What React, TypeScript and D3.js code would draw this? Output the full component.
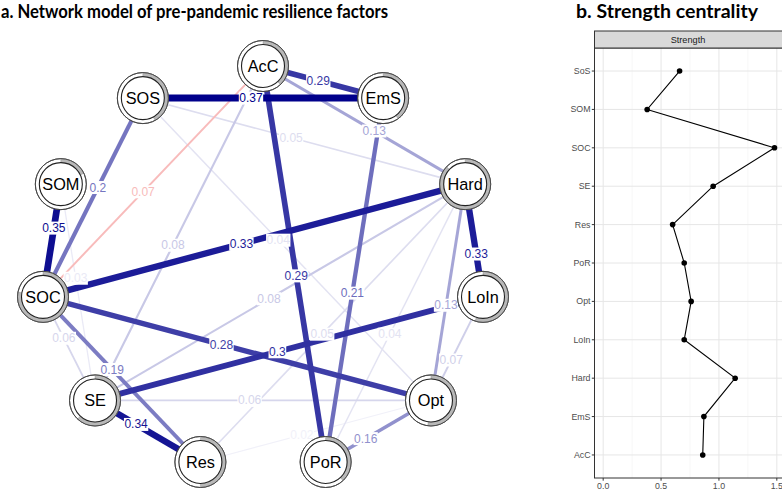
import React from "react";
import * as d3 from "d3";

// ---------- Data ----------
const nodeNames = ["AcC", "EmS", "Hard", "LoIn", "Opt", "PoR", "Res", "SE", "SOC", "SOM", "SOS"];
const nodePie = [0.38, 0.4, 0.87, 0.55, 0.52, 0.38, 0.5, 0.62, 0.78, 0.18, 0.42];

const edgeFrom = ["SOS", "AcC", "AcC", "AcC", "SOS", "SOS", "SOM", "AcC", "AcC", "SOS", "EmS", "SOC", "Hard", "SE", "Hard", "LoIn", "SOC", "SOC", "SE", "SOC", "SOM", "SE", "Res", "Res", "SE", "PoR", "PoR"];
const edgeTo = ["EmS", "EmS", "PoR", "Hard", "Hard", "SOC", "SOC", "SOC", "SE", "Opt", "PoR", "Hard", "LoIn", "LoIn", "Opt", "Opt", "Opt", "Res", "Res", "SE", "SE", "Opt", "Opt", "Hard", "Hard", "Hard", "Opt"];
const edgeWeight = [0.37, 0.29, 0.29, 0.13, 0.05, 0.2, 0.35, -0.07, 0.08, 0.04, 0.21, 0.33, 0.33, 0.3, 0.13, 0.07, 0.28, 0.19, 0.34, 0.06, 0.03, 0.06, 0.02, 0.05, 0.08, 0.04, 0.16];
// label placement (fraction along each edge, from -> to)
const edgeLabelAt = [0.45, 0.46, 0.53, 0.55, 0.46, 0.45, 0.39, 0.545, 0.536, 0.47, 0.536, 0.47, 0.62, 0.47, 0.56, 0.61, 0.46, 0.44, 0.39, 0.4, 0.435, 0.46, 0.44, 0.46, 0.47, 0.46, 0.38];

const strengthLabels = ["SoS", "SOM", "SOC", "SE", "Res", "PoR", "Opt", "LoIn", "Hard", "EmS", "AcC"];
const strengthNodes = ["SOS", "SOM", "SOC", "SE", "Res", "PoR", "Opt", "LoIn", "Hard", "EmS", "AcC"];
const xTicks = [0, 0.5, 1, 1.5];
const xMinorTicks = [0.25, 0.75, 1.25];

const titleA = "a. Network model of pre-pandemic resilience factors";
const titleB = "b. Strength centrality";
const stripLabel = "Strength";

// ---------- Helpers ----------
const W = 782;
const H = 492;
const maxW = 0.37;
const posBase = d3.rgb(0, 0, 139);
const negBase = d3.rgb(230, 0, 0);

function edgeColor(w: number) {
  const a = Math.min(1, (Math.abs(w) / maxW) * (w > 0 ? 1 : 1.4));
  const base = w > 0 ? posBase : negBase;
  return d3.interpolateRgb("#ffffff", base.formatHex())(a);
}
function edgeWidth(w: number) {
  return 0.8 + 6.2 * Math.min(1, Math.abs(w) / maxW);
}
function fmt(w: number) {
  return String(+Math.abs(w).toFixed(2));
}

export default function App() {
  // circular layout (qgraph style, clockwise from top)
  const n = nodeNames.length;
  const raw = nodeNames.map((_, i) => {
    const t = Math.PI / 2 - (i * 2 * Math.PI) / n;
    return { x: Math.cos(t), y: Math.sin(t) };
  });
  const xs = d3.scaleLinear().domain(d3.extent(raw, (d) => d.x) as [number, number]).range([43, 483]);
  const ys = d3.scaleLinear().domain(d3.extent(raw, (d) => d.y) as [number, number]).range([462, 66]);
  const pos: Record<string, { x: number; y: number }> = {};
  nodeNames.forEach((nm, i) => (pos[nm] = { x: xs(raw[i].x), y: ys(raw[i].y) }));

  const edges = edgeFrom
    .map((f, i) => ({ f, t: edgeTo[i], w: edgeWeight[i], at: edgeLabelAt[i] }))
    .sort((a, b) => Math.abs(a.w) - Math.abs(b.w));

  const rOuter = 25.5;
  const rInner = 21.5;
  const arc = d3.arc<any>().innerRadius(rInner).outerRadius(rOuter).startAngle(0);

  // strength
  const strength = strengthNodes.map((nm) =>
    d3.sum(edgeFrom.map((f, i) => (f === nm || edgeTo[i] === nm ? Math.abs(edgeWeight[i]) : 0)))
  );
  const px0 = 594.5;
  const px1 = 785.5;
  const py0 = 48;
  const py1 = 478;
  const sx = d3.scaleLinear().domain([-0.075, 1.575]).range([px0, px1]);
  const sy = d3.scalePoint<string>().domain(strengthLabels).range([py0, py1]).padding(0.6);
  const line = d3
    .line<number>()
    .x((d) => sx(d))
    .y((_, i) => sy(strengthLabels[i]) as number);

  const labelFont = 12;
  const sans = "'Liberation Sans', Arial, Helvetica, sans-serif";

  return (
    <svg width={W} height={H} style={{ position: "absolute", left: 0, top: 0, background: "#fff" }}>
      <rect x={0} y={0} width={W} height={H} fill="#fff" />
      {/* Titles */}
      <text x={1} y={18} fontFamily="Lato, 'Open Sans', sans-serif" fontWeight={700} fontSize={18.5}
        textLength={387} lengthAdjust="spacingAndGlyphs">{titleA}</text>
      <text x={576} y={18} fontFamily="Lato, 'Open Sans', sans-serif" fontWeight={700} fontSize={18.5}
        textLength={182} lengthAdjust="spacingAndGlyphs">{titleB}</text>

      {/* Network edges */}
      <g>
        {edges.map((e, i) => (
          <line key={i} x1={pos[e.f].x} y1={pos[e.f].y} x2={pos[e.t].x} y2={pos[e.t].y}
            stroke={edgeColor(e.w)} strokeWidth={edgeWidth(e.w)} />
        ))}
      </g>
      {/* Edge labels */}
      <g fontFamily={sans} fontSize={labelFont}>
        {edges.map((e, i) => {
          const mx = pos[e.f].x + (pos[e.t].x - pos[e.f].x) * e.at;
          const my = pos[e.f].y + (pos[e.t].y - pos[e.f].y) * e.at;
          const s = fmt(e.w);
          const tw = s.split("").reduce((acc, c) => acc + (c === "." ? 0.278 : 0.556), 0) * labelFont;
          return (
            <g key={i}>
              <rect x={mx - tw / 2 - 0.5} y={my - 6.5} width={tw + 1} height={13} fill="#fff" />
              <text x={mx} y={my} textAnchor="middle" dominantBaseline="central" fill={edgeColor(e.w)}>{s}</text>
            </g>
          );
        })}
      </g>
      {/* Nodes */}
      <g>
        {nodeNames.map((nm, i) => (
          <g key={nm} transform={`translate(${pos[nm].x},${pos[nm].y})`}>
            <circle r={rOuter} fill="#fff" stroke="#444" strokeWidth={0.9} />
            <path d={arc({ endAngle: 2 * Math.PI * nodePie[i] }) as string} fill="#b8b8b8" stroke="#888" strokeWidth={0.4} />
            <circle r={rOuter} fill="none" stroke="#444" strokeWidth={0.9} />
            <circle r={rInner} fill="#fff" stroke="#222" strokeWidth={1.1} />
            <text textAnchor="middle" dominantBaseline="central" fontFamily={sans} fontSize={16.3} fill="#000">{nm}</text>
          </g>
        ))}
      </g>

      {/* Strength panel */}
      <g>
        <rect x={px0} y={py0} width={px1 - px0} height={py1 - py0} fill="#fff" />
        {xMinorTicks.map((t) => (
          <line key={"mi" + t} x1={sx(t)} x2={sx(t)} y1={py0} y2={py1} stroke="#f2f2f2" strokeWidth={0.6} />
        ))}
        {xTicks.map((t) => (
          <line key={"ma" + t} x1={sx(t)} x2={sx(t)} y1={py0} y2={py1} stroke="#e6e6e6" strokeWidth={1} />
        ))}
        {strengthLabels.map((l) => (
          <line key={"h" + l} x1={px0} x2={px1} y1={sy(l)} y2={sy(l)} stroke="#e6e6e6" strokeWidth={1} />
        ))}
        <path d={line(strength) as string} fill="none" stroke="#000" strokeWidth={1.1} />
        {strength.map((v, i) => (
          <circle key={i} cx={sx(v)} cy={sy(strengthLabels[i])} r={2.8} fill="#000" />
        ))}
        <rect x={px0} y={py0} width={px1 - px0} height={py1 - py0} fill="none" stroke="#333" strokeWidth={1} />
        {/* strip */}
        <rect x={px0} y={31} width={px1 - px0} height={py0 - 31} fill="#d9d9d9" stroke="#333" strokeWidth={1} />
        <text x={688} y={(31 + py0) / 2} textAnchor="middle" dominantBaseline="central" fontFamily={sans} fontSize={9.2} fill="#1a1a1a">{stripLabel}</text>
        {/* y axis */}
        {strengthLabels.map((l) => (
          <g key={"yt" + l}>
            <line x1={px0 - 2.7} x2={px0} y1={sy(l)} y2={sy(l)} stroke="#333" strokeWidth={1} />
            <text x={px0 - 4} y={sy(l)} textAnchor="end" dominantBaseline="central" fontFamily={sans} fontSize={8.8} fill="#4d4d4d">{l}</text>
          </g>
        ))}
        {/* x axis */}
        {xTicks.map((t) => (
          <g key={"xt" + t}>
            <line x1={sx(t)} x2={sx(t)} y1={py1} y2={py1 + 2.7} stroke="#333" strokeWidth={1} />
            <text x={sx(t)} y={py1 + 11} textAnchor="middle" fontFamily={sans} fontSize={8.8} fill="#4d4d4d">{d3.format(".1f")(t)}</text>
          </g>
        ))}
      </g>
    </svg>
  );
}
